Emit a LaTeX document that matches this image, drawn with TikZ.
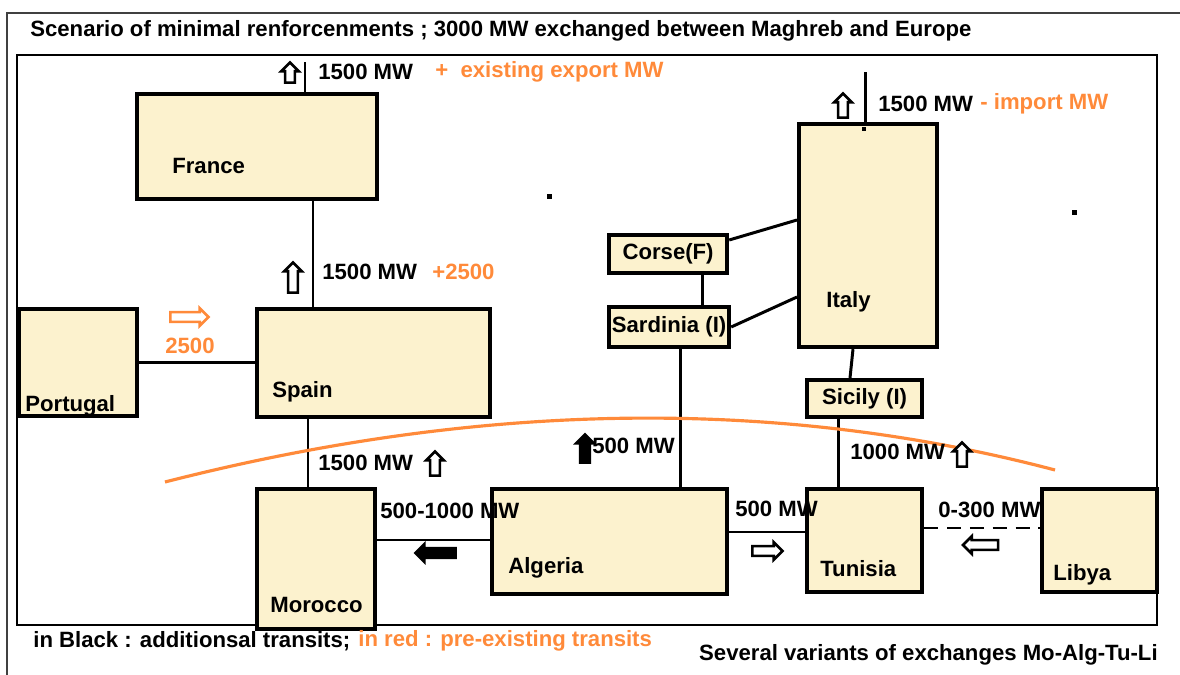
\documentclass[tikz,border=0pt]{standalone}
\usepackage{fontspec}
\setmainfont{Liberation Sans}
\usepackage{xcolor}
\usetikzlibrary{shapes.arrows,calc}
\definecolor{boxfill}{HTML}{FCF2CE}
\definecolor{orangeline}{HTML}{FF8A3A}
\tikzset{
  box/.style={draw,fill=boxfill,line width=2.4pt,anchor=north west,
              inner sep=0pt,font=\fontsize{12.6}{14}\selectfont\bfseries},
  wire/.style={line width=1.7pt},
  lbl/.style={font=\fontsize{12.6}{14}\selectfont\bfseries,anchor=west,inner sep=0pt},
  olbl/.style={lbl,text=orangeline},
  flowarr/.style={single arrow,draw,fill=white,line width=1.5pt,inner sep=2pt,
                  single arrow head extend=2.2pt},
  uparr/.style={flowarr,shape border rotate=90},
  rightarr/.style={flowarr,shape border rotate=0},
  leftarr/.style={flowarr,shape border rotate=180},
}
\begin{document}
\begin{tikzpicture}[x=0.02cm,y=-0.02cm]
  \useasboundingbox (0,0) rectangle (1180,675);
  % frames
  \draw[line width=1pt,black!75] (7,675) -- (7,13) -- (1180,13);
  \draw[line width=1.6pt] (17,55) rectangle (1157,625);
  \node[lbl] (title) at (30,31)
    {Scenario of minimal renforcenments ; 3000 MW exchanged between Maghreb and Europe};
  % countries
  \node[box,minimum width=4.8cm,minimum height=2.1cm] (france) at (135,92) {};
  \node[box,minimum width=4.66cm,minimum height=2.16cm] (spain) at (255,307) {};
  \node[box,minimum width=2.36cm,minimum height=2.14cm] (portugal) at (17,307) {};
  \node[box,minimum width=2.36cm,minimum height=2.8cm] (morocco) at (255,487) {};
  \node[box,minimum width=4.7cm,minimum height=2.1cm] (algeria) at (490,487) {};
  \node[box,minimum width=2.3cm,minimum height=2.06cm] (tunisia) at (805,487) {};
  \node[box,minimum width=2.3cm,minimum height=2.06cm] (libya) at (1040,487) {};
  \node[box,minimum width=2.76cm,minimum height=4.46cm] (italy) at (797,122) {};
  \node[box,minimum width=2.36cm,minimum height=0.76cm] (corse) at (607,233) {Corse(F)};
  \node[box,minimum width=2.4cm,minimum height=0.8cm] (sardinia) at (607,305) {Sardinia (I)};
  \node[box,minimum width=2.3cm,minimum height=0.74cm] (sicily) at (805,378) {Sicily (I)};
  \foreach \n/\dx/\dy/\t in {
    france/0.74/0.70/France,
    spain/0.34/0.54/Spain,
    portugal/0.16/0.24/Portugal,
    morocco/0.30/0.52/Morocco,
    algeria/0.36/0.56/Algeria,
    tunisia/0.30/0.52/Tunisia,
    libya/0.26/0.38/Libya,
    italy/0.58/0.94/Italy
  }{
    \node[lbl] (\n lbl) at ([xshift=\dx cm,yshift=\dy cm]\n.south west) {\t};
  }
  % links
  \coordinate (frup) at (305,62);
  \coordinate (itup) at (865,72);
  \draw[wire] (france.north -| frup) -- (frup);
  \draw[wire] (spain.north -| 313,0) -- (france.south -| 313,0);
  \draw[wire] (portugal.east) -- (portugal.east -| spain.west);
  \draw[wire] (spain.south -| 308,0) -- (morocco.north -| 308,0);
  \draw[wire] (morocco.east |- 0,540) -- (algeria.west |- 0,540);
  \draw[wire] (sardinia.south -| 680,0) -- (algeria.north -| 680,0);
  \draw[wire] (corse.south -| 702,0) -- (sardinia.north -| 702,0);
  \draw[wire] (corse.east |- 0,240) -- (italy.west |- 0,220);
  \draw[wire] (sardinia.east |- 0,327) -- (italy.west |- 0,297);
  \draw[wire] (italy.north -| itup) -- (itup);
  \draw[wire] (italy.south -| 853,0) -- (sicily.north -| 850,0);
  \draw[wire] (sicily.south -| 838,0) -- (tunisia.north -| 838,0);
  \draw[wire] (algeria.east |- 0,532) -- (tunisia.west |- 0,532);
  \draw[wire,dashed,dash pattern=on 8pt off 5pt] (tunisia.east |- 0,528) -- (libya.west |- 0,528);
  % frontier
  \draw[orangeline,line width=1.8pt] (165,482) .. controls (482,401) and (778,397) .. (1055,470);
  % flow arrows
  \node[uparr,minimum height=0.4cm] (frarr) at (290,75) {};
  \node[uparr,minimum height=0.6cm] (sparr) at (293,280) {};
  \node[rightarr,draw=orangeline,minimum height=0.76cm] (ptarr) at (187,317) {};
  \node[uparr,minimum height=0.48cm] (moarr) at (435,466) {};
  \node[leftarr,fill=black,minimum height=0.8cm] (maarr) at (438,553) {};
  \node[uparr,fill=black,minimum height=0.56cm] (alarr) at (585,451) {};
  \node[uparr,minimum height=0.48cm] (itarr) at (843,108) {};
  \node[uparr,minimum height=0.48cm] (starr) at (962,457) {};
  \node[rightarr,minimum height=0.6cm] (tuarr) at (765,551) {};
  \node[leftarr,minimum height=0.7cm] (liarr) at (983,545) {};
  % flow labels
  \node[lbl] (frmw) at (318,72) {1500 MW};
  \node[olbl] (frex) at (435,72) {+\ \ existing export MW};
  \node[lbl] (spmw) at (322,272) {1500 MW};
  \node[olbl] (spex) at (432,272) {+2500};
  \node[olbl] (ptmw) at (165,346) {2500};
  \node[lbl] (momw) at (318,463) {1500 MW};
  \node[lbl] (mamw) at (380,511) {500-1000 MW};
  \node[lbl] (almw) at (592,446) {500 MW};
  \node[lbl] (stmw) at (850,452) {1000 MW};
  \node[lbl] (tumw) at (735,509) {500 MW};
  \node[lbl] (limw) at (938,510) {0-300 MW};
  \node[lbl] (itmw) at (878,104) {1500 MW};
  \node[olbl] (itex) at (980,104) {- import MW};
  % stray dots
  \fill (547,194) rectangle (552,199);
  \fill (1072,210) rectangle (1077,215);
  \fill (862,127) rectangle (866,131);
  % legend
  \node[lbl] (legblack) at (33,641) {in Black : additionsal transits;};
  \node[olbl] (legred) at (358,641) {in red : pre-existing transits};
  \node[lbl,anchor=east] (variants) at (1158,655) {Several variants of exchanges Mo-Alg-Tu-Li};
\end{tikzpicture}
\end{document}
